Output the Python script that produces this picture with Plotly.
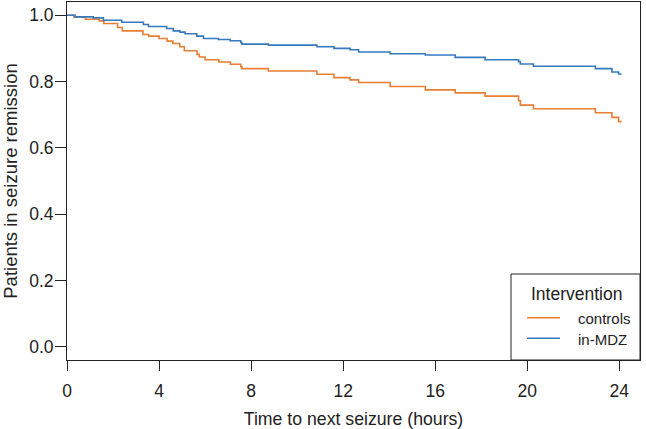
import plotly.graph_objects as go

# Kaplan-Meier style step data (time in hours, proportion in remission)
controls_t = [0, 0.3, 0.8, 1.4, 1.6, 2.2, 2.4, 3.3, 3.55, 4.0, 4.35, 4.6, 4.9, 5.1, 5.65, 5.75,
              6.0, 6.6, 7.1, 7.55, 7.6, 8.75, 10.86, 11.6, 12.3, 12.67, 14.04, 15.57, 16.87,
              18.17, 19.62, 19.7, 20.27, 22.96, 23.68, 23.97, 24.1]
controls_s = [1.0, 0.994, 0.988, 0.983, 0.975, 0.963, 0.953, 0.942, 0.937, 0.930, 0.922, 0.915,
              0.905, 0.893, 0.882, 0.874, 0.866, 0.859, 0.852, 0.845, 0.839, 0.832, 0.822, 0.812,
              0.805, 0.797, 0.785, 0.775, 0.766, 0.756, 0.742, 0.729, 0.718, 0.706, 0.692, 0.679,
              0.679]

mdz_t = [0, 0.35, 1.14, 1.58, 2.38, 3.32, 3.54, 4.33, 4.62, 4.91, 5.13, 5.64, 5.93, 6.58, 7.09,
         7.55, 7.6, 8.75, 10.86, 11.6, 12.3, 12.67, 14.04, 15.57, 16.87, 18.17, 19.62, 19.7,
         20.27, 22.96, 23.68, 23.97, 24.1]
mdz_s = [1.0, 0.995, 0.992, 0.985, 0.979, 0.972, 0.966, 0.960, 0.953, 0.949, 0.944, 0.937,
         0.930, 0.927, 0.923, 0.918, 0.913, 0.910, 0.905, 0.900, 0.896, 0.889, 0.884, 0.880,
         0.873, 0.866, 0.860, 0.853, 0.846, 0.839, 0.829, 0.823, 0.823]

x_ticks = [0, 4, 8, 12, 16, 20, 24]
y_ticks = [0.0, 0.2, 0.4, 0.6, 0.8, 1.0]

series_names = ["controls", "in-MDZ"]
legend_title = "Intervention"
ORANGE = "#E97E35"
BLUE = "#3679BF"
FONT = "Liberation Sans, Arial, sans-serif"

fig = go.Figure()
fig.add_trace(go.Scatter(x=controls_t, y=controls_s, mode="lines", line_shape="hv",
                         line=dict(color=ORANGE, width=1.6), name=series_names[0],
                         showlegend=False))
fig.add_trace(go.Scatter(x=mdz_t, y=mdz_s, mode="lines", line_shape="hv",
                         line=dict(color=BLUE, width=1.6), name=series_names[1],
                         showlegend=False))

# plot geometry in pixels (for paper-coordinate legend box)
L, R, T, B = 67, 640, 2, 360
W = R - L
H = B - T

def px(x):
    return (x - L) / W

def py(y):
    return (B - y) / H

# manual legend box
fig.add_shape(type="rect", xref="paper", yref="paper", x0=px(511), x1=1.0, y0=0.0, y1=py(274),
              line=dict(color="#222", width=1), fillcolor="white", layer="above")
for yy, col in [(317.7, ORANGE), (338.3, BLUE)]:
    fig.add_shape(type="line", xref="paper", yref="paper", x0=px(527), x1=px(560),
                  y0=py(yy), y1=py(yy), line=dict(color=col, width=1.6), layer="above")
fig.add_annotation(xref="paper", yref="paper", x=px(529), y=py(293.5), text=legend_title,
                   showarrow=False, xanchor="left", yanchor="middle",
                   font=dict(family=FONT, size=17.5, color="#222"))
fig.add_annotation(xref="paper", yref="paper", x=px(576), y=py(318), text=series_names[0],
                   showarrow=False, xanchor="left", yanchor="middle",
                   font=dict(family=FONT, size=15, color="#222"))
fig.add_annotation(xref="paper", yref="paper", x=px(576), y=py(339), text=series_names[1],
                   showarrow=False, xanchor="left", yanchor="middle",
                   font=dict(family=FONT, size=15, color="#222"))

fig.update_layout(
    width=646, height=429,
    margin=dict(l=L, r=646 - R, t=T, b=429 - B),
    paper_bgcolor="white", plot_bgcolor="white",
    font=dict(family=FONT, size=17.5, color="#222"),
    showlegend=False,
)
fig.update_xaxes(range=[0, 24.9], tickvals=x_ticks, ticktext=[str(v) for v in x_ticks],
                 showgrid=False, zeroline=False, showline=True, linecolor="#222", linewidth=1,
                 mirror=True, ticks="outside", ticklen=10, tickcolor="#222",
                 ticklabelstandoff=5,
                 title=dict(text="Time to next seizure (hours)", standoff=14,
                            font=dict(size=17.7)),
                 automargin=False)
fig.update_yaxes(range=[-0.04, 1.04], tickvals=y_ticks, ticktext=[f"{v:.1f}" for v in y_ticks],
                 showgrid=False, zeroline=False, showline=True, linecolor="#222", linewidth=1,
                 mirror=True, ticks="outside", ticklen=11, tickcolor="#222",
                 ticklabelstandoff=-2,
                 title=dict(text="Patients in seizure remission", standoff=7,
                            font=dict(size=18.5)),
                 automargin=False)

fig.write_html("out.html", config={"displayModeBar": False},
               post_script="document.body.style.margin='0';")
